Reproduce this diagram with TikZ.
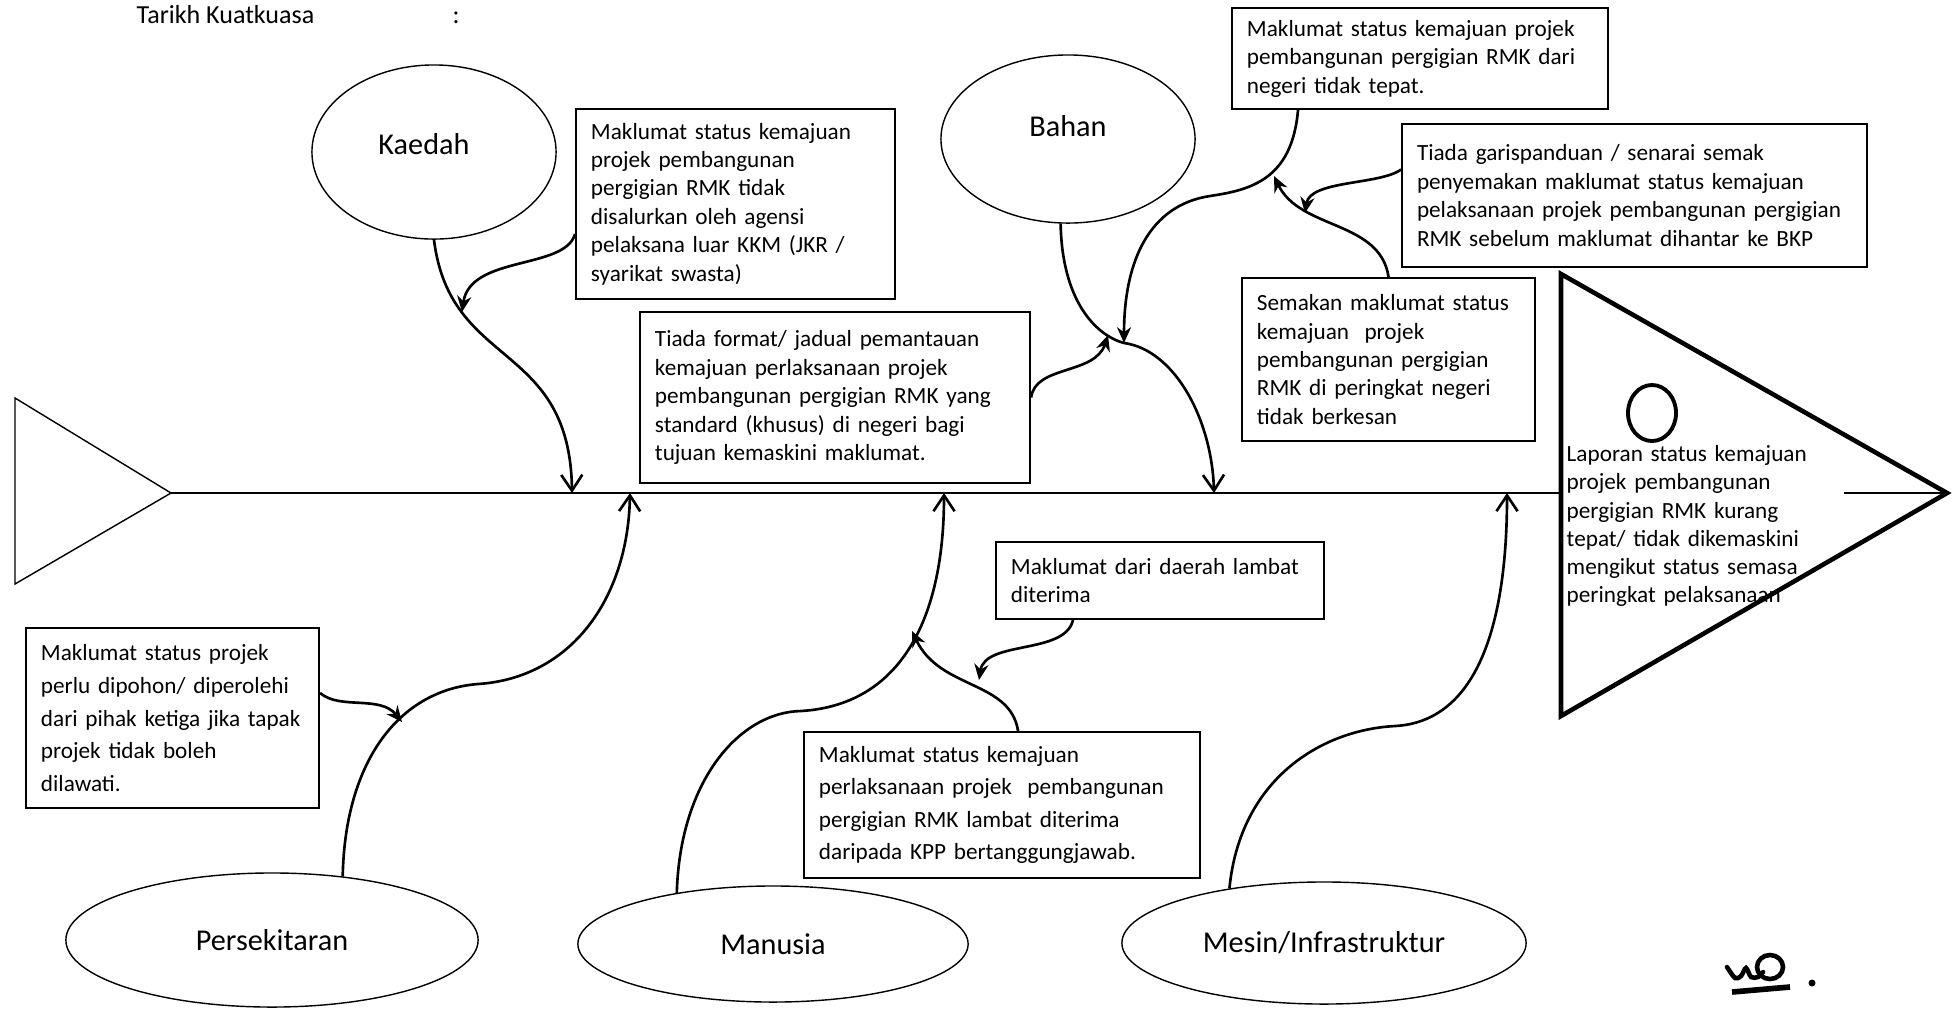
\documentclass[tikz,border=0pt]{standalone}
\usepackage{fontspec}
\setmainfont{Carlito}
\usetikzlibrary{calc,shapes.geometric,arrows.meta}
\tikzset{
	cause/.style={ellipse, draw, line width=0.4pt, inner sep=0pt, font=\fontsize{8.6}{10}\selectfont},
	infobox/.style={draw, line width=0.55pt, anchor=north west, align=left, inner xsep=0.15cm, inner ysep=0.08cm, font=\fontsize{6.6}{8.1}\selectfont},
	bone/.style={line width=0.75pt, -{Straight Barb[length=4.5pt,width=6pt]}},
	subarrow/.style={line width=0.75pt, -{Stealth[length=4.5pt,width=4pt]}},
}

\begin{document}
\begin{tikzpicture}[x=0.01cm, y=-0.01cm]
		%%%%% START %%%%%
		\useasboundingbox (0,0) rectangle (1952,1008);
		
		\node[anchor=base west, inner sep=0pt, font=\fontsize{7.4}{9}\selectfont] (tarikh) at (136,23) {Tarikh Kuatkuasa};
		\node[anchor=base west, inner sep=0pt, font=\fontsize{7.4}{9}\selectfont] (tarikhColon) at (452,23) {:};
		
		% tail, spine and head
		\coordinate (tailTip) at (171,493);
		\coordinate (headBase) at (1561,493);
		\coordinate (headInner) at (1844,493);
		\coordinate (headTip) at (1947,493);
		\draw[line width=0.4pt] (15,398) -- (tailTip) -- (15,584) -- cycle;
		\draw[line width=0.8pt] (tailTip) -- (headBase);
		\draw[line width=0.8pt] (headInner) -- (headTip);
		\draw[line width=1.3pt] (1561,274) -- (headTip) -- (1561,716) -- cycle;
		\draw[line width=1.1pt] (1652,413) ellipse [x radius=0.24cm, y radius=0.28cm];
		\node[anchor=north west, inner sep=0pt, align=left, text width=3cm, font=\fontsize{6.6}{8}\selectfont] (laporan) at (1566,445) {Laporan status kemajuan\\ projek pembangunan\\ pergigian RMK kurang\\ tepat/ tidak dikemaskini\\ mengikut status semasa\\ peringkat pelaksanaan};
		
		% causes
		\node[cause, minimum width=2.44cm, minimum height=1.74cm, text depth=0.16cm] (kaedah) at (434,152) {Kaedah\hspace*{0.2cm}};
		\node[cause, minimum width=2.54cm, minimum height=1.68cm, text depth=0.26cm] (bahan) at (1068,139) {Bahan};
		\node[cause, minimum width=4.12cm, minimum height=1.34cm] (persekitaran) at (272,940) {Persekitaran};
		\node[cause, minimum width=3.90cm, minimum height=1.16cm] (manusia) at (773,944) {Manusia};
		\node[cause, minimum width=4.04cm, minimum height=1.22cm] (mesin) at (1324,943) {Mesin/Infrastruktur};
		
		% boxes
		\node[infobox, text width=2.89cm, minimum height=1.90cm] (kaedahA) at (575,108) {Maklumat status kemajuan\\ projek pembangunan\\ pergigian RMK tidak\\ disalurkan oleh agensi\\ pelaksana luar KKM (JKR /\\ syarikat swasta)};
		\node[infobox, text width=3.60cm, minimum height=1.71cm] (tiadaFormat) at (639,311) {Tiada format/ jadual pemantauan\\ kemajuan perlaksanaan projek\\ pembangunan pergigian RMK yang\\ standard (khusus) di negeri bagi\\ tujuan kemaskini maklumat.};
		\node[infobox, text width=3.46cm, minimum height=1.01cm] (bahanA) at (1231,7) {Maklumat status kemajuan projek\\ pembangunan pergigian RMK dari\\ negeri tidak tepat.};
		\node[infobox, text width=4.35cm, minimum height=1.43cm] (bahanB) at (1401,123) {Tiada garispanduan / senarai semak\\ penyemakan maklumat status kemajuan\\ pelaksanaan projek pembangunan pergigian\\ RMK sebelum maklumat dihantar ke BKP};
		\node[infobox, text width=2.63cm, minimum height=1.63cm] (bahanC) at (1241,277) {Semakan maklumat status\\ kemajuan\ \ projek\\ pembangunan pergigian\\ RMK di peringkat negeri\\ tidak berkesan};
		\node[infobox, text width=2.63cm, minimum height=1.80cm, font=\fontsize{6.6}{9.25}\selectfont] (persekitaranA) at (25,627) {Maklumat status projek\\ perlu dipohon/ diperolehi\\ dari pihak ketiga jika tapak\\ projek tidak boleh\\ dilawati.};
		\node[infobox, text width=2.98cm, minimum height=0.77cm] (manusiaA) at (995,541) {Maklumat dari daerah lambat\\ diterima};
		\node[infobox, text width=3.66cm, minimum height=1.46cm, font=\fontsize{6.6}{9.25}\selectfont] (manusiaB) at (803,731) {Maklumat status kemajuan\\ perlaksanaan projek\ \ pembangunan\\ pergigian RMK lambat diterima\\ daripada KPP bertanggungjawab.};
		
		% bones
		\coordinate (kaedahEnd) at (572,493);
		\coordinate (bahanEnd) at (1214,493);
		\coordinate (persekitaranEnd) at (630,493);
		\coordinate (manusiaEnd) at (944,493);
		\coordinate (mesinEnd) at (1507,493);
		\coordinate (bahanJoin) at (1124,343);
		\draw[bone] (kaedah.south) .. controls (450,370) and (570,340) .. (kaedahEnd);
		\draw[bone] (bahan.265) .. controls (1062,300) and (1095,335) .. (bahanJoin) .. controls (1175,350) and (1212,420) .. (bahanEnd);
		\draw[bone] (persekitaran.42) .. controls (345,760) and (400,690) .. (478,684) .. controls (570,678) and (628,600) .. (persekitaranEnd);
		\draw[bone] (manusia.152) .. controls (680,780) and (740,712) .. (801,711) .. controls (900,705) and (944,620) .. (manusiaEnd);
		\draw[bone] (mesin.150) .. controls (1240,780) and (1320,730) .. (1395,726) .. controls (1470,722) and (1507,640) .. (mesinEnd);
		
		% small arrows
		\coordinate (kaedahHit) at (462,312);
		\coordinate (tiadaHit) at (1108,335);
		\coordinate (bahanBHit) at (1305,213);
		\coordinate (bahanCHit) at (1274,176);
		\coordinate (persekitaranHit) at (402,722);
		\coordinate (manusiaAHit) at (979,680);
		\coordinate (manusiaHit) at (912,631);
		\draw[subarrow] ($(kaedahA.west)+(0,30)$) .. controls (565,270) and (470,255) .. (kaedahHit);
		\draw[subarrow] (tiadaFormat.east) .. controls (1035,365) and (1095,375) .. (tiadaHit);
		\draw[subarrow] ($(bahanA.south west)+(67,0)$) .. controls (1292,180) and (1250,190) .. (1210,196) .. controls (1150,205) and (1124,260) .. (bahanJoin);
		\draw[subarrow] ($(bahanB.west)+(0,-26)$) .. controls (1380,185) and (1310,180) .. (bahanBHit);
		\draw[subarrow] (bahanC.north) .. controls (1380,220) and (1300,230) .. (bahanCHit);
		\draw[subarrow] ($(persekitaranA.east)+(0,-25)$) .. controls (340,710) and (380,695) .. (persekitaranHit);
		\draw[subarrow] ($(manusiaA.south west)+(78,0)$) .. controls (1065,655) and (985,640) .. (manusiaAHit);
		\draw[subarrow] ($(manusiaB.north)+(16,0)$) .. controls (1010,680) and (940,690) .. (manusiaHit);
		
		% initials
		\draw[line width=1.3pt, line cap=round] plot[smooth] coordinates {(1727,967) (1735,978) (1741,976) (1746,968) (1751,977) (1758,977) (1763,972)};
		\draw[line width=1.3pt] (1770,967) ellipse [x radius=0.13cm, y radius=0.12cm];
		\draw[line width=1.6pt] (1732,992) -- (1790,987);
		\fill (1812,983) circle [radius=0.035cm];
		
		%%%%% END %%%%%
\end{tikzpicture}
\end{document}
